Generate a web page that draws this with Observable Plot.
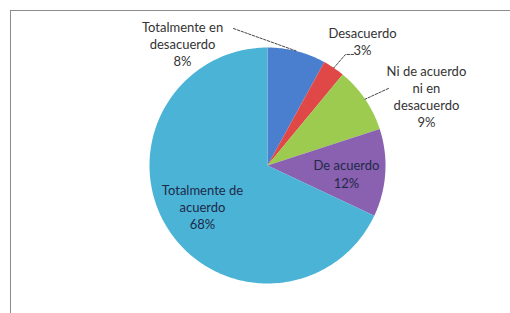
<!DOCTYPE html>
<html>
<head>
<meta charset="utf-8">
<script src="https://cdn.jsdelivr.net/npm/d3@7"></script>
<script src="https://cdn.jsdelivr.net/npm/@observablehq/plot@0.6"></script>
<style>
  html, body { margin: 0; padding: 0; background: #fff; overflow: hidden; }
  #wrap { position: relative; width: 510px; height: 313px; }
  #border { position: absolute; left: 10px; top: 10px; width: 700px; height: 500px;
            border-top: 1.5px solid #8c8c8c; border-left: 1.5px solid #8c8c8c; }
  #chart { position: absolute; left: 0; top: 0; }
</style>
</head>
<body>
<div id="wrap"><div id="border"></div><div id="chart"></div></div>
<script>
// ---- data ----
const categories = ["Totalmente en desacuerdo", "Desacuerdo", "Ni de acuerdo ni en desacuerdo", "De acuerdo", "Totalmente de acuerdo"];
const values = [8, 3, 9, 12, 68];
const labelText = ["Totalmente en\ndesacuerdo\n8%", "Desacuerdo\n3%", "Ni de acuerdo\nni en\ndesacuerdo\n9%", "De acuerdo\n12%", "Totalmente de\nacuerdo\n68%"];
const colors = ["#4a7ecf", "#e04848", "#9ccb4f", "#8a60b0", "#4ab3d6"];

// ---- layout (pie units: radius = 1) ----
const W = 510, H = 313, CX = 267, CY = 165, R = 118;
const labelPos = [[-0.72, 1.034], [0.805, 1.055], [1.347, 0.589], [0.669, -0.068], [-0.551, -0.347]];
const labelFill = ["#333", "#333", "#333", "#1e2a48", "#1e2a48"];
const leaderStart = [[[-0.288, 1.161]], [[0.729, 0.941], [0.661, 0.941]], [[1.025, 0.653]], null, null];

const arcs = d3.pie().sort(null).startAngle(0).endAngle(2 * Math.PI)(values);

// slice polygons
const slicePts = [];
arcs.forEach((a, i) => {
  const cat = categories[i];
  slicePts.push({cat, u: 0, v: 0});
  const n = Math.max(2, Math.ceil((a.endAngle - a.startAngle) / (Math.PI / 180)));
  for (let k = 0; k <= n; k++) {
    const t = a.startAngle + (a.endAngle - a.startAngle) * k / n;
    slicePts.push({cat, u: Math.sin(t), v: Math.cos(t)});
  }
});

// leader lines
const leaderPts = [];
arcs.forEach((a, i) => {
  if (!leaderStart[i]) return;
  leaderStart[i].forEach(([u, v]) => leaderPts.push({cat: categories[i], u, v}));
  const m = (a.startAngle + a.endAngle) / 2;
  leaderPts.push({cat: categories[i], u: Math.sin(m), v: Math.cos(m)});
});

const labels = categories.map((c, i) => ({cat: c, text: labelText[i], u: labelPos[i][0], v: labelPos[i][1], fill: labelFill[i]}));

const chart = Plot.plot({
  width: W, height: H,
  margin: 0,
  style: {fontFamily: "Lato, sans-serif", background: "transparent"},
  x: {domain: [-CX / R, (W - CX) / R], range: [0, W], axis: null},
  y: {domain: [(CY - H) / R, CY / R], range: [H, 0], axis: null},
  color: {domain: categories, range: colors},
  marks: [
    Plot.line(slicePts, {x: "u", y: "v", z: "cat", fill: "cat", stroke: "none", curve: "linear"}),
    Plot.line(leaderPts, {x: "u", y: "v", z: "cat", stroke: "#444", strokeWidth: 1, strokeDasharray: "2.5,1.5"}),
    Plot.text(labels, {x: "u", y: "v", text: "text", fill: "fill", fontSize: 13, lineHeight: 1.33, textAnchor: "middle"})
  ]
});
document.getElementById("chart").appendChild(chart);
</script>
</body>
</html>
